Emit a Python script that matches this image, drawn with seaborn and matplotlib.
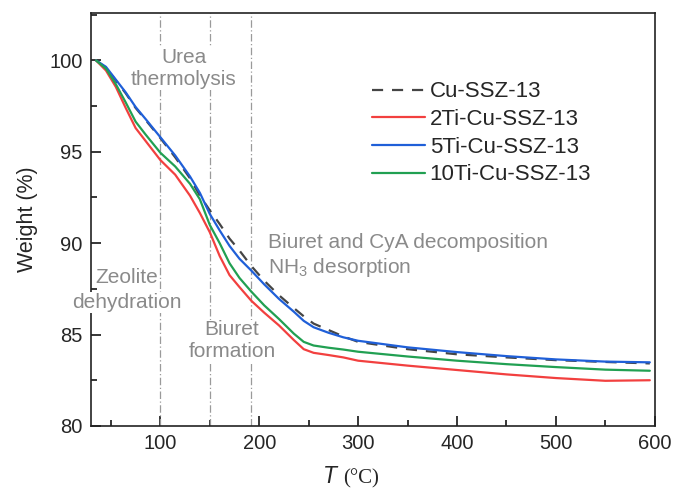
import matplotlib
matplotlib.use("Agg")
import matplotlib.pyplot as plt
import seaborn as sns
import pandas as pd
from matplotlib.ticker import MultipleLocator

# TGA weight-loss curves (temperature in °C, weight in %)
temperature = [35, 45, 55, 65, 75, 85, 100, 115, 130, 140, 150, 160, 170, 180, 192,
               205, 220, 235, 245, 255, 270, 285, 300, 350, 400, 450, 500, 550, 595]

cu_ssz13 = [100, 99.6, 98.9, 98.2, 97.4, 96.75, 95.75, 94.7, 93.55, 92.6, 91.8, 91.05,
            90.25, 89.6, 88.75, 87.95, 87.15, 86.45, 86.0, 85.6, 85.25, 84.9, 84.6,
            84.2, 83.92, 83.75, 83.6, 83.5, 83.42]
ti2_cu_ssz13 = [100, 99.45, 98.55, 97.4, 96.3, 95.6, 94.55, 93.75, 92.6, 91.65, 90.6,
                89.3, 88.25, 87.6, 86.85, 86.2, 85.5, 84.7, 84.2, 84.0, 83.88, 83.75,
                83.57, 83.3, 83.06, 82.82, 82.62, 82.47, 82.5]
ti5_cu_ssz13 = [100, 99.65, 98.95, 98.25, 97.45, 96.8, 95.8, 94.8, 93.65, 92.75, 91.6,
                90.7, 89.85, 89.15, 88.5, 87.75, 86.95, 86.25, 85.75, 85.4, 85.1, 84.85,
                84.66, 84.3, 84.04, 83.82, 83.64, 83.52, 83.48]
ti10_cu_ssz13 = [100, 99.55, 98.7, 97.7, 96.65, 95.95, 94.95, 94.2, 93.25, 92.4, 91.0,
                 90.0, 88.9, 88.1, 87.35, 86.6, 85.85, 85.05, 84.6, 84.4, 84.28, 84.18,
                 84.06, 83.8, 83.57, 83.38, 83.22, 83.08, 83.02]

series_names = ["Cu-SSZ-13", "2Ti-Cu-SSZ-13", "5Ti-Cu-SSZ-13", "10Ti-Cu-SSZ-13"]
series_values = [cu_ssz13, ti2_cu_ssz13, ti5_cu_ssz13, ti10_cu_ssz13]
series_colors = ["#454545", "#f2403f", "#1f5fd8", "#21a052"]
series_styles = [(0, (5, 4)), "-", "-", "-"]

stage_boundaries = [100, 150, 192]

df = pd.concat(
    [pd.DataFrame({"T": temperature, "Weight": vals, "Sample": name})
     for name, vals in zip(series_names, series_values)],
    ignore_index=True,
)

sns.set_theme(style="ticks")
plt.rcParams["font.family"] = ["Liberation Sans", "DejaVu Sans"]
plt.rcParams["mathtext.fontset"] = "custom"
plt.rcParams["mathtext.rm"] = "Liberation Sans"
plt.rcParams["mathtext.it"] = "Liberation Sans:italic"

fig = plt.figure(figsize=(6.75, 4.97), dpi=100)
ax = fig.add_axes([0.135, 0.143, 0.835, 0.831])

# vertical markers separating decomposition stages
for xb in stage_boundaries:
    ax.axvline(xb, color="#9a9a9a", lw=0.9, ls=(0, (6, 2, 1, 2)), zorder=1)

draw_order = [1, 2, 3, 0]  # dashed reference curve on top
for i in draw_order:
    name = series_names[i]
    sub = df[df["Sample"] == name]
    sns.lineplot(data=sub, x="T", y="Weight", ax=ax, color=series_colors[i],
                 lw=1.6, linestyle=series_styles[i], label=name, zorder=3 + i)

handles, labels = ax.get_legend_handles_labels()
order = [labels.index(n) for n in series_names]
ax.legend([handles[k] for k in order], [labels[k] for k in order],
          loc="upper left", bbox_to_anchor=(0.498, 0.834), frameon=False,
          fontsize=16, handlelength=2.4, handletextpad=0.2,
          labelspacing=0.30, borderaxespad=0, borderpad=0)

ax.set_xlim(30, 600)
ax.set_ylim(80, 102.6)
ax.xaxis.set_major_locator(MultipleLocator(100))
ax.xaxis.set_minor_locator(MultipleLocator(50))
ax.yaxis.set_major_locator(MultipleLocator(5))
ax.yaxis.set_minor_locator(MultipleLocator(2.5))
ax.tick_params(which="both", direction="in", top=False, right=False,
               labelsize=14.5, width=1.1, color="black", pad=6)
ax.tick_params(which="major", length=7)
ax.tick_params(which="minor", length=4)
for s in ax.spines.values():
    s.set_visible(True)
    s.set_linewidth(1.2)
    s.set_color("#222222")

ax.set_ylabel("Weight (%)", fontsize=15.5, labelpad=8)
ax.set_xlabel("")
fig.text(0.503, 0.018, "$T$", fontsize=16.5, ha="right", va="bottom",
         family="Liberation Sans")
fig.text(0.508, 0.018, "(°C)", fontsize=15, ha="left", va="bottom",
         family="Liberation Serif")

note_color = "#8a8a8a"
note_size = 15
box = dict(facecolor="white", edgecolor="none", pad=0.6)
ax.text(123.5, 99.55, "Urea\nthermolysis", color=note_color, fontsize=note_size,
        ha="center", va="center", linespacing=1.2, bbox=box, zorder=2)
ax.text(66.5, 88.1, "Zeolite", color=note_color, fontsize=note_size,
        ha="center", va="center", zorder=2)
ax.text(66.5, 86.75, "dehydration", color=note_color, fontsize=note_size,
        ha="center", va="center", bbox=box, zorder=10, clip_on=False)
ax.text(172.5, 84.65, "Biuret\nformation", color=note_color, fontsize=note_size,
        ha="center", va="center", linespacing=1.2, bbox=box, zorder=2)
ax.text(209, 89.3, "Biuret and CyA decomposition\nNH$_3$ desorption",
        color=note_color, fontsize=note_size, ha="left", va="center",
        linespacing=1.2, zorder=2)

fig.savefig("out.png", dpi=100)
